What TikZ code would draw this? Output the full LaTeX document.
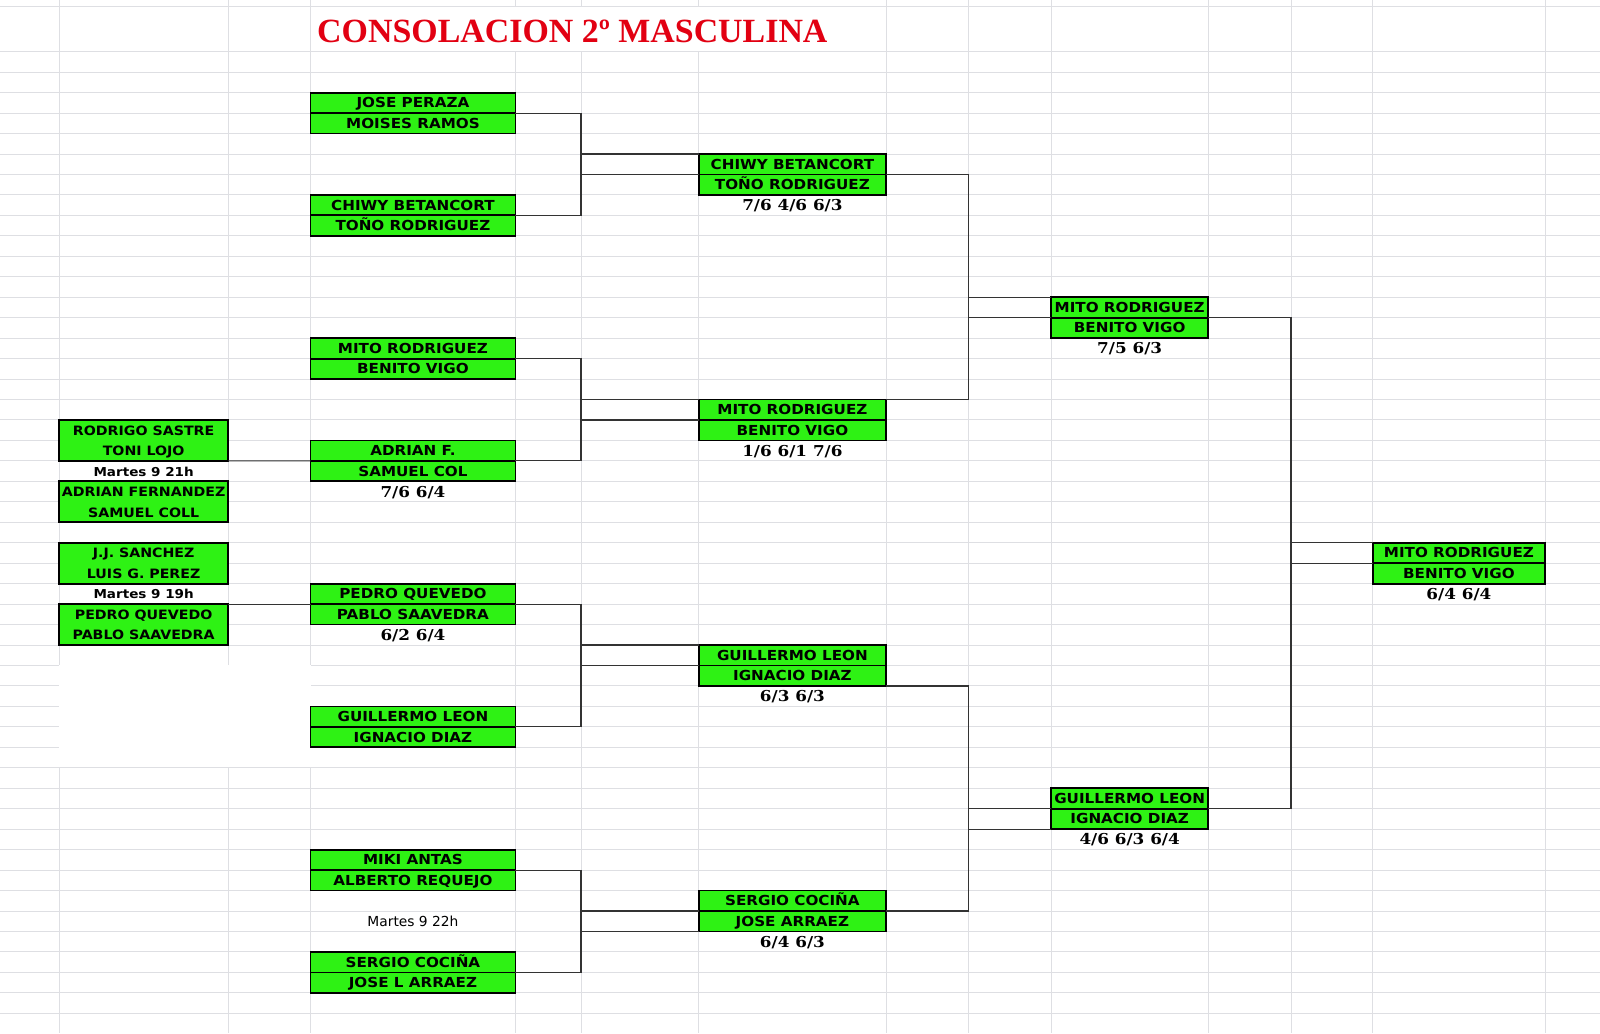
\documentclass[tikz,border=0pt]{standalone}
\usepackage{fontspec}
\usepackage{xcolor}
\usepackage{tikz}
\newfontfamily\cellfont[FakeStretch=1.1]{DejaVu Sans}
\newfontfamily\plainfont{DejaVu Sans}
\newfontfamily\scorefont[FakeStretch=1.12]{DejaVu Serif}
\newfontfamily\titlefont{Liberation Serif}
\definecolor{boxgreen}{RGB}{46,242,20}
\definecolor{gridgray}{RGB}{222,223,227}
\definecolor{titlered}{RGB}{226,0,18}
\tikzset{
  gridline/.style={draw=gridgray, line width=1pt},
  team/.style={rectangle, draw=black, fill=boxgreen, line width=1.8pt, inner sep=0pt, outer sep=0pt,
    minimum height=20.46pt, text height=10pt, text depth=0pt,
    font=\cellfont\bfseries\fontsize{13.8}{16}\selectfont},
  lteam/.style={team, draw=none, minimum width=168.7pt, font=\cellfont\bfseries\fontsize{12.9}{15}\selectfont},
  rone/.style={team, minimum width=204.9pt},
  rtwo/.style={team, minimum width=187.2pt},
  rthree/.style={team, minimum width=157.3pt},
  rfour/.style={team, minimum width=172.6pt},
  score/.style={inner sep=0pt, text height=10.9pt, text depth=0pt, font=\scorefont\bfseries\fontsize{15}{18}\selectfont},
  dayline/.style={inner sep=0pt, text height=10pt, text depth=0pt, font=\cellfont\bfseries\fontsize{12.3}{14}\selectfont},
  dayplain/.style={inner sep=0pt, text height=10pt, text depth=0pt, font=\plainfont\fontsize{13.8}{16}\selectfont},
  frame/.style={draw=black, line width=1.8pt},
  link/.style={draw=black!80, line width=1.1pt},
}

\begin{document}
\begin{tikzpicture}[x=1pt, y=-1pt]
  \useasboundingbox (0,0) rectangle (1600,1033);
  \fill[white] (0,0) rectangle (1600,1033);

  % sheet grid
  \foreach \k in {0,...,47}
    \draw[gridline] (0,{51.7+20.46*\k}) -- (1600,{51.7+20.46*\k});
  \draw[gridline] (0,6.7) -- (1600,6.7);
  \foreach \c in {59.3,228,310.5,515.4,581,698.8,886,968.5,1051,1208.3,1291,1372.6,1545.2}
    \draw[gridline] (\c,0) -- (\c,1033);
  \fill[white] (311.2,7.4) rectangle (885.3,51);
  \fill[white] (58.6,664.8) rectangle (311.2,767.1);

  \node[anchor=base west, inner sep=0pt, text=titlered, font=\titlefont\bfseries\fontsize{33.9}{38}\selectfont] (title) at (317,43) {CONSOLACION 2º MASCULINA};

  % previa
  \node[lteam] (p1) at (143.65,430.21) {RODRIGO SASTRE};
  \node[lteam] (p2) at (143.65,450.67) {TONI LOJO};
  \draw[frame] (p1.north west) rectangle (p2.south east);
  \node[dayline] (pday) at (143.65,471.13) {Martes 9 21h};
  \node[lteam] (q1) at (143.65,491.59) {ADRIAN FERNANDEZ};
  \node[lteam] (q2) at (143.65,512.05) {SAMUEL COLL};
  \draw[frame] (q1.north west) rectangle (q2.south east);

  \node[lteam] (s1) at (143.65,552.97) {J.J. SANCHEZ};
  \node[lteam] (s2) at (143.65,573.43) {LUIS G. PEREZ};
  \draw[frame] (s1.north west) rectangle (s2.south east);
  \node[dayline] (sday) at (143.65,593.89) {Martes 9 19h};
  \node[lteam] (t1) at (143.65,614.35) {PEDRO QUEVEDO};
  \node[lteam] (t2) at (143.65,634.81) {PABLO SAAVEDRA};
  \draw[frame] (t1.north west) rectangle (t2.south east);

  % first round
  \node[rone] (a1) at (412.95,102.85) {JOSE PERAZA};
  \node[rone] (a2) at (412.95,123.31) {MOISES RAMOS};
  \node[rone] (b1) at (412.95,205.15) {CHIWY BETANCORT};
  \node[rone] (b2) at (412.95,225.61) {TOÑO RODRIGUEZ};
  \node[rone] (c1) at (412.95,348.37) {MITO RODRIGUEZ};
  \node[rone] (c2) at (412.95,368.83) {BENITO VIGO};
  \node[rone] (d1) at (412.95,450.67) {ADRIAN F.};
  \node[rone] (d2) at (412.95,471.13) {SAMUEL COL};
  \node[score] (d3) at (412.95,491.59) {7/6 6/4};
  \node[rone] (e1) at (412.95,593.89) {PEDRO QUEVEDO};
  \node[rone] (e2) at (412.95,614.35) {PABLO SAAVEDRA};
  \node[score] (e3) at (412.95,634.81) {6/2 6/4};
  \node[rone] (f1) at (412.95,716.65) {GUILLERMO LEON};
  \node[rone] (f2) at (412.95,737.11) {IGNACIO DIAZ};
  \node[rone] (g1) at (412.95,859.87) {MIKI ANTAS};
  \node[rone] (g2) at (412.95,880.33) {ALBERTO REQUEJO};
  \node[dayplain] (gday) at (412.95,921.25) {Martes 9 22h};
  \node[rone] (h1) at (412.95,962.17) {SERGIO COCIÑA};
  \node[rone] (h2) at (412.95,982.63) {JOSE L ARRAEZ};

  % second round
  \node[rtwo] (ab1) at (792.4,164.23) {CHIWY BETANCORT};
  \node[rtwo] (ab2) at (792.4,184.69) {TOÑO RODRIGUEZ};
  \node[score] (ab3) at (792.4,205.15) {7/6 4/6 6/3};
  \node[rtwo] (cd1) at (792.4,409.75) {MITO RODRIGUEZ};
  \node[rtwo] (cd2) at (792.4,430.21) {BENITO VIGO};
  \node[score] (cd3) at (792.4,450.67) {1/6 6/1 7/6};
  \node[rtwo] (ef1) at (792.4,655.27) {GUILLERMO LEON};
  \node[rtwo] (ef2) at (792.4,675.73) {IGNACIO DIAZ};
  \node[score] (ef3) at (792.4,696.19) {6/3 6/3};
  \node[rtwo] (gh1) at (792.4,900.79) {SERGIO COCIÑA};
  \node[rtwo] (gh2) at (792.4,921.25) {JOSE ARRAEZ};
  \node[score] (gh3) at (792.4,941.71) {6/4 6/3};

  % semifinal
  \node[rthree] (top1) at (1129.65,307.45) {MITO RODRIGUEZ};
  \node[rthree] (top2) at (1129.65,327.91) {BENITO VIGO};
  \node[score] (top3) at (1129.65,348.37) {7/5 6/3};
  \node[rthree] (bot1) at (1129.65,798.49) {GUILLERMO LEON};
  \node[rthree] (bot2) at (1129.65,818.95) {IGNACIO DIAZ};
  \node[score] (bot3) at (1129.65,839.41) {4/6 6/3 6/4};

  % final
  \node[rfour] (fin1) at (1458.9,552.97) {MITO RODRIGUEZ};
  \node[rfour] (fin2) at (1458.9,573.43) {BENITO VIGO};
  \node[score] (fin3) at (1458.9,593.89) {6/4 6/4};

  % brackets
  \coordinate (v1) at (581,0);
  \coordinate (v2) at (968.5,0);
  \coordinate (v3) at (1291,0);

  \draw[link] (p2.south east) -- (d2.north west);
  \draw[link] (t1.north east) -- (e2.north west);

  \draw[link] (a2.north east) -- (v1 |- a2.north east) -- (v1 |- b2.north east) -- (b2.north east);
  \draw[link] (v1 |- ab1.north west) -- (ab1.north west);
  \draw[link] (v1 |- ab2.north west) -- (ab2.north west);

  \draw[link] (c2.north east) -- (v1 |- c2.north east) -- (v1 |- d2.north east) -- (d2.north east);
  \draw[link] (v1 |- cd1.north west) -- (cd1.north west);
  \draw[link] (v1 |- cd2.north west) -- (cd2.north west);

  \draw[link] (e2.north east) -- (v1 |- e2.north east) -- (v1 |- f2.north east) -- (f2.north east);
  \draw[link] (v1 |- ef1.north west) -- (ef1.north west);
  \draw[link] (v1 |- ef2.north west) -- (ef2.north west);

  \draw[link] (g2.north east) -- (v1 |- g2.north east) -- (v1 |- h2.north east) -- (h2.north east);
  \draw[link] (v1 |- gh2.north west) -- (gh2.north west);
  \draw[link] (v1 |- gh2.south west) -- (gh2.south west);

  \draw[link] (ab2.north east) -- (v2 |- ab2.north east) -- (v2 |- cd1.north east) -- (cd1.north east);
  \draw[link] (v2 |- top1.north west) -- (top1.north west);
  \draw[link] (v2 |- top2.north west) -- (top2.north west);

  \draw[link] (ef2.south east) -- (v2 |- ef2.south east) -- (v2 |- gh2.north east) -- (gh2.north east);
  \draw[link] (v2 |- bot2.north west) -- (bot2.north west);
  \draw[link] (v2 |- bot2.south west) -- (bot2.south west);

  \draw[link] (top2.north east) -- (v3 |- top2.north east) -- (v3 |- bot2.north east) -- (bot2.north east);
  \draw[link] (v3 |- fin1.north west) -- (fin1.north west);
  \draw[link] (v3 |- fin2.north west) -- (fin2.north west);
\end{tikzpicture}
\end{document}
